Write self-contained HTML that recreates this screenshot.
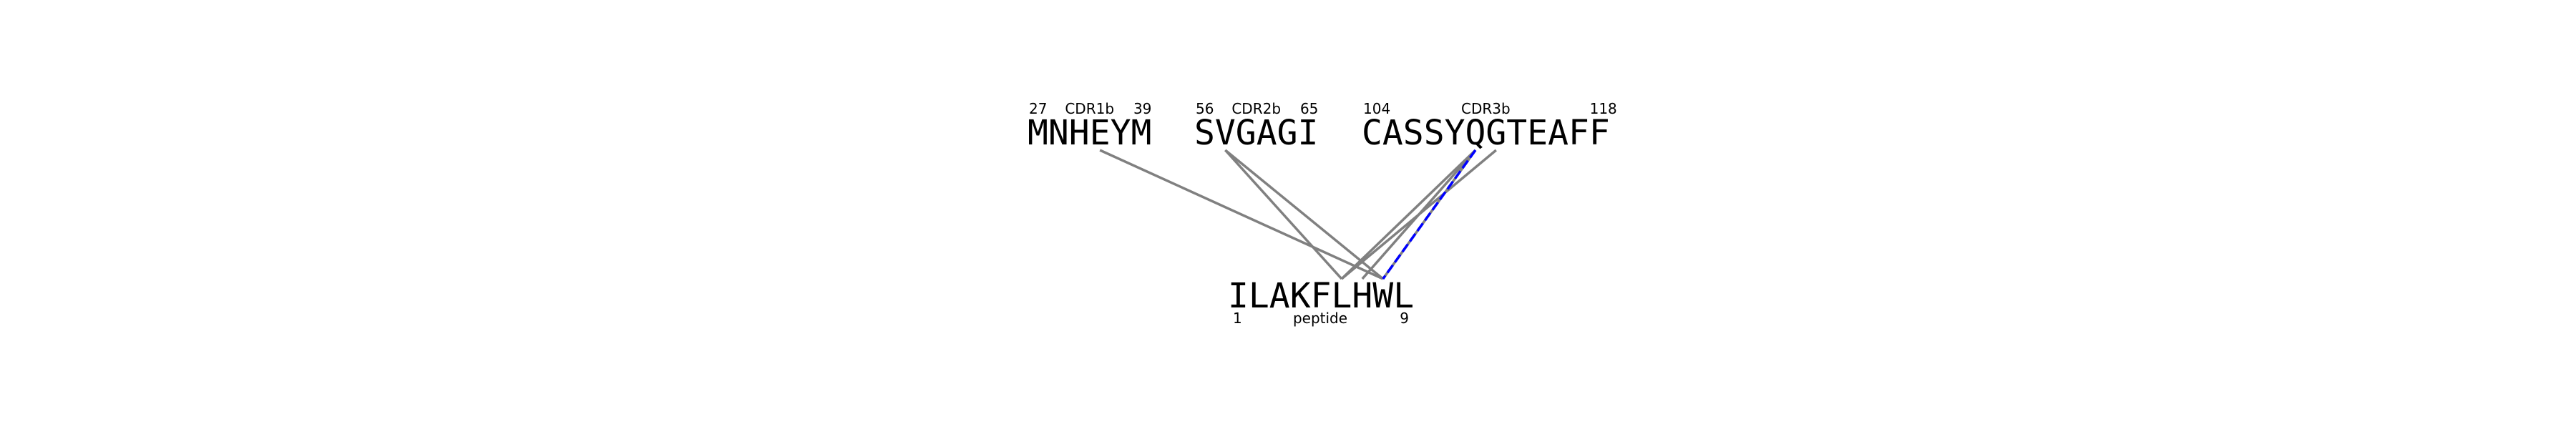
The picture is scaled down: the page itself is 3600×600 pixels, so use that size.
<!DOCTYPE html>
<html><head><meta charset="utf-8"><style>
html,body{margin:0;padding:0;background:#fff;}
svg{display:block;}
.seq{font-family:"DejaVu Sans Mono","Liberation Mono",monospace;font-size:48px;fill:#000;}
.lbl{font-family:"DejaVu Sans","Liberation Sans",sans-serif;font-size:20px;fill:#000;}
</style></head><body>
<svg id="chart" width="3600" height="600" viewBox="0 0 3600 600" xmlns="http://www.w3.org/2000/svg">
<g id="lines"></g>
<g id="texts"></g>
</svg>
<script>
const cdrNames = ["CDR1b","CDR2b","CDR3b"];
const cdrSeqs = ["MNHEYM","SVGAGI","CASSYQGTEAFF"];
const cdrStarts = ["27","56","104"];
const cdrEnds = ["39","65","118"];
const peptideSeq = "ILAKFLHWL";
// contacts: cdr index, residue index in cdr, peptide residue index
const contactCdr = [0,1,1,2,2,2,2];
const contactRes = [3,1,1,5,5,6,5];
const contactPep = [7,5,7,5,6,5,7];
const highlightContact = [6];

const NS="http://www.w3.org/2000/svg";
const charW=28.9, topY=202, topLineY=210, botY=430, botLineY=390;
const cdrX=[1436,1669,1903];
const pepX=1716;
function topCharX(c,i){return cdrX[c]+charW*(i+0.5);}
function pepCharX(i){return pepX+charW*(i+0.5);}
function mk(tag,attrs,parent){const e=document.createElementNS(NS,tag);for(const k in attrs)e.setAttribute(k,attrs[k]);parent.appendChild(e);return e;}
const T=document.getElementById('texts'), L=document.getElementById('lines');
cdrSeqs.forEach((s,c)=>{
  const w=s.length*charW;
  const t=mk('text',{x:cdrX[c],y:topY,class:'seq'},T);t.textContent=s;
  
  
  const a=mk('text',{x:cdrX[c]+2,y:159,class:'lbl'},T);a.textContent=cdrStarts[c];
  
  
  const b=mk('text',{x:cdrX[c]+w+(c==2?10:0),y:159,class:'lbl','text-anchor':'end'},T);b.textContent=cdrEnds[c];
  
  
  const n=mk('text',{x:cdrX[c]+w/2,y:159,class:'lbl','text-anchor':'middle'},T);n.textContent=cdrNames[c];
  
  
});
const p=mk('text',{x:pepX,y:botY,class:'seq'},T);p.textContent=peptideSeq;


const p1=mk('text',{x:1723,y:452,class:'lbl'},T);p1.textContent="1";


const p9=mk('text',{x:1969,y:452,class:'lbl','text-anchor':'end'},T);p9.textContent=String(peptideSeq.length);


const pl=mk('text',{x:1845,y:452,class:'lbl','text-anchor':'middle'},T);pl.textContent="peptide";


contactCdr.forEach((c,k)=>{
  const x1=topCharX(c,contactRes[k]), x2=pepCharX(contactPep[k]);
  const g=mk('line',{x1:x1,y1:topLineY,x2:x2,y2:botLineY,stroke:'#808080','stroke-width':3.5},L);
  
  
  if(highlightContact.includes(k)){
    const b=mk('line',{x1:x1,y1:topLineY,x2:x2,y2:botLineY,stroke:'#0000ff','stroke-width':3.5,'stroke-dasharray':'13,5'},L);
    
    
  }
});
</script>
</body></html>
